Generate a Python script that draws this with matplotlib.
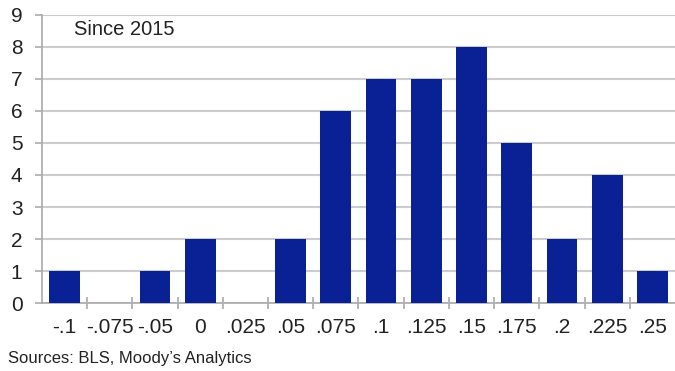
import matplotlib.pyplot as plt
import numpy as np

# Histogram categories and counts
categories = ['-.1', '-.075', '-.05', '0', '.025', '.05', '.075', '.1',
              '.125', '.15', '.175', '.2', '.225', '.25']
counts = [1, 0, 1, 2, 0, 2, 6, 7, 7, 8, 5, 2, 4, 1]
y_ticks = list(range(0, 10))

plt.rcParams['font.family'] = ['Liberation Sans', 'DejaVu Sans']

fig = plt.figure(figsize=(6.75, 3.71), dpi=100)
ax = fig.add_axes([0.062, 0.183, 0.938, 0.777])

x = np.arange(len(categories))
ax.bar(x, counts, width=0.68, color='#0a2196', zorder=3)

ax.set_xlim(-0.5, len(categories) - 0.5)
ax.set_ylim(0, 9)
ax.set_yticks(y_ticks)
ax.set_xticks(x)
ax.set_xticklabels(categories)
ax.set_xticks(x[:-1] + 0.5, minor=True)

# Grid and axis styling
ax.grid(axis='y', color='#cccccc', lw=1.5, zorder=0)
ax.grid(axis='x', visible=False)
for s in ['top', 'right']:
    ax.spines[s].set_visible(False)
for s in ['left', 'bottom']:
    ax.spines[s].set_color('#aaaaaa')
    ax.spines[s].set_linewidth(1.2)

ax.tick_params(axis='x', which='major', length=0, labelsize=15,
               labelcolor='#222222', pad=11)
ax.tick_params(axis='x', which='minor', length=8, direction='inout',
               color='#aaaaaa', width=1.2)
ax.tick_params(axis='y', length=5, color='#aaaaaa', width=1.2,
               labelsize=15, labelcolor='#222222', pad=9)

ax.text(0.2, 8.55, 'Since 2015', fontsize=14.5, color='#222222', va='center')

fig.text(0.012, 0.033, "Sources: BLS, Moody\u2019s Analytics", fontsize=12,
         color='#222222', va='center')

fig.savefig('out.png', dpi=100)
